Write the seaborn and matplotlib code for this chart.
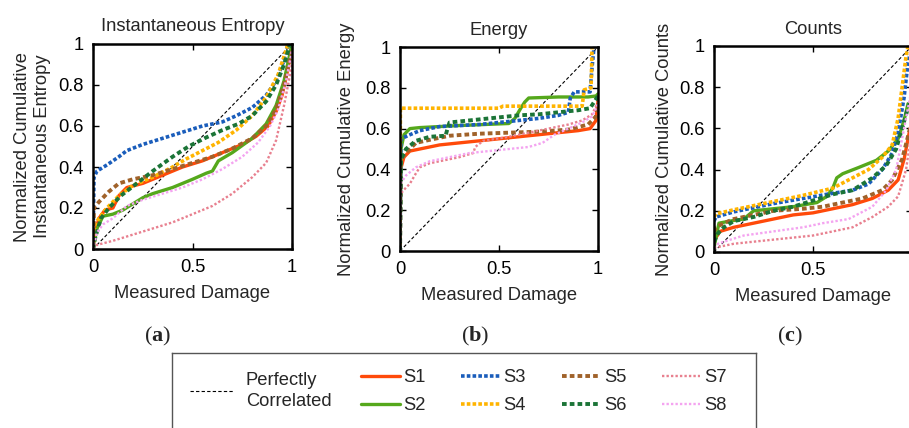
import matplotlib
matplotlib.use("Agg")
import matplotlib.pyplot as plt
import seaborn as sns
import pandas as pd
from matplotlib.lines import Line2D

# ---------------- text / categories ----------------
series_names = ["S1", "S2", "S3", "S4", "S5", "S6", "S7", "S8"]
panel_titles = ["Instantaneous Entropy", "Energy", "Counts"]
panel_ylabels = ["Normalized Cumulative\nInstantaneous Entropy",
                 "Normalized Cumulative Energy",
                 "Normalized Cumulative Counts"]
panel_tags = ["a", "b", "c"]
x_label = "Measured Damage"
x_ticks = [0, 0.5, 1]
x_ticklabels = ["0", "0.5", "1"]
y_ticks = [0, 0.2, 0.4, 0.6, 0.8, 1]
y_ticklabels = ["0", "0.2", "0.4", "0.6", "0.8", "1"]
diag_label = "Perfectly\nCorrelated"
diag_x = [0, 1]
diag_y = [0, 1]

# ---------------- panel (a): instantaneous entropy ----------------
ent_s1_x = [0, 0.01, 0.03, 0.06, 0.1, 0.13, 0.17, 0.25, 0.35, 0.45, 0.55, 0.65, 0.75, 0.82, 0.88, 0.92, 0.95, 0.98, 1.0]
ent_s1_y = [0, 0.08, 0.15, 0.19, 0.2, 0.26, 0.3, 0.32, 0.36, 0.40, 0.43, 0.47, 0.51, 0.55, 0.6, 0.67, 0.75, 0.88, 1.0]
ent_s2_x = [0, 0.02, 0.05, 0.1, 0.15, 0.2, 0.25, 0.3, 0.4, 0.5, 0.57, 0.6, 0.63, 0.7, 0.8, 0.87, 0.92, 0.96, 1.0]
ent_s2_y = [0, 0.1, 0.16, 0.17, 0.19, 0.22, 0.25, 0.27, 0.3, 0.34, 0.37, 0.38, 0.43, 0.47, 0.54, 0.61, 0.7, 0.82, 1.0]
ent_s3_x = [0, 0.005, 0.02, 0.07, 0.13, 0.17, 0.25, 0.35, 0.45, 0.55, 0.65, 0.72, 0.8, 0.87, 0.92, 0.96, 0.98]
ent_s3_y = [0, 0.35, 0.38, 0.41, 0.45, 0.48, 0.51, 0.54, 0.57, 0.6, 0.62, 0.65, 0.69, 0.75, 0.82, 0.92, 1.0]
ent_s4_x = [0, 0.01, 0.03, 0.07, 0.13, 0.2, 0.3, 0.4, 0.47, 0.55, 0.63, 0.72, 0.8, 0.87, 0.93, 0.97, 0.98]
ent_s4_y = [0, 0.12, 0.15, 0.2, 0.26, 0.31, 0.35, 0.4, 0.44, 0.48, 0.52, 0.58, 0.65, 0.74, 0.85, 0.97, 1.0]
ent_s5_x = [0, 0.005, 0.03, 0.08, 0.13, 0.2, 0.3, 0.4, 0.5, 0.6, 0.7, 0.8, 0.87, 0.92, 0.96, 1.0]
ent_s5_y = [0, 0.2, 0.23, 0.28, 0.32, 0.34, 0.36, 0.39, 0.42, 0.45, 0.49, 0.54, 0.6, 0.68, 0.8, 0.97]
ent_s6_x = [0, 0.01, 0.04, 0.08, 0.14, 0.22, 0.3, 0.4, 0.48, 0.56, 0.65, 0.73, 0.8, 0.87, 0.92, 0.96, 0.99]
ent_s6_y = [0, 0.05, 0.15, 0.2, 0.26, 0.32, 0.38, 0.45, 0.5, 0.54, 0.58, 0.61, 0.65, 0.72, 0.8, 0.9, 1.0]
ent_s7_x = [0, 0.02, 0.1, 0.2, 0.3, 0.4, 0.5, 0.6, 0.7, 0.8, 0.87, 0.92, 0.96, 1.0]
ent_s7_y = [0, 0.02, 0.04, 0.07, 0.1, 0.13, 0.17, 0.21, 0.27, 0.35, 0.42, 0.53, 0.7, 0.9]
ent_s8_x = [0, 0.02, 0.05, 0.1, 0.17, 0.25, 0.35, 0.45, 0.55, 0.65, 0.75, 0.83, 0.89, 0.93, 0.97, 1.0]
ent_s8_y = [0, 0.08, 0.12, 0.15, 0.21, 0.24, 0.27, 0.3, 0.34, 0.39, 0.45, 0.52, 0.6, 0.68, 0.82, 0.97]

# ---------------- panel (b): energy ----------------
en_s1_x = [0, 0.003, 0.02, 0.05, 0.1, 0.2, 0.3, 0.4, 0.5, 0.6, 0.7, 0.8, 0.9, 0.96, 0.99, 1.0]
en_s1_y = [0, 0.4, 0.46, 0.49, 0.5, 0.52, 0.53, 0.54, 0.55, 0.56, 0.57, 0.58, 0.59, 0.6, 0.64, 0.74]
en_s2_x = [0, 0.005, 0.02, 0.05, 0.1, 0.2, 0.3, 0.55, 0.58, 0.61, 0.63, 0.65, 0.8, 0.95, 0.99, 1.0]
en_s2_y = [0, 0.5, 0.57, 0.6, 0.605, 0.61, 0.615, 0.625, 0.65, 0.7, 0.73, 0.75, 0.755, 0.755, 0.76, 0.77]
en_s3_x = [0, 0.005, 0.05, 0.1, 0.2, 0.3, 0.4, 0.5, 0.6, 0.7, 0.8, 0.85, 0.86, 0.88, 0.96, 0.97, 0.98]
en_s3_y = [0, 0.55, 0.57, 0.59, 0.61, 0.615, 0.62, 0.63, 0.64, 0.65, 0.665, 0.68, 0.75, 0.78, 0.78, 0.9, 1.0]
en_s4_x = [0, 0.002, 0.5, 0.52, 0.92, 0.93, 0.965, 0.97]
en_s4_y = [0, 0.7, 0.7, 0.71, 0.71, 0.79, 0.8, 1.0]
en_s5_x = [0, 0.005, 0.03, 0.08, 0.15, 0.25, 0.4, 0.55, 0.7, 0.85, 0.95, 0.99, 1.0]
en_s5_y = [0, 0.45, 0.48, 0.53, 0.545, 0.565, 0.575, 0.58, 0.585, 0.595, 0.62, 0.66, 0.72]
en_s6_x = [0, 0.005, 0.03, 0.08, 0.15, 0.23, 0.24, 0.25, 0.35, 0.5, 0.6, 0.7, 0.8, 0.9, 0.96, 0.98, 1.0]
en_s6_y = [0, 0.45, 0.5, 0.54, 0.56, 0.565, 0.6, 0.63, 0.64, 0.655, 0.665, 0.67, 0.68, 0.69, 0.7, 0.73, 0.76]
en_s7_x = [0, 0.003, 0.02, 0.05, 0.08, 0.1, 0.15, 0.2, 0.3, 0.37, 0.38, 0.42, 0.55, 0.65, 0.75, 0.85, 0.92, 0.97, 1.0]
en_s7_y = [0, 0.28, 0.3, 0.33, 0.38, 0.41, 0.43, 0.44, 0.46, 0.48, 0.51, 0.54, 0.56, 0.58, 0.6, 0.62, 0.64, 0.67, 0.73]
en_s8_x = [0, 0.003, 0.03, 0.08, 0.15, 0.25, 0.35, 0.45, 0.55, 0.65, 0.72, 0.78, 0.85, 0.92, 0.97, 1.0]
en_s8_y = [0, 0.33, 0.37, 0.41, 0.44, 0.46, 0.48, 0.49, 0.5, 0.51, 0.53, 0.57, 0.6, 0.63, 0.66, 0.72]

# ---------------- panel (c): counts ----------------
ct_s1_x = [0, 0.01, 0.03, 0.1, 0.2, 0.3, 0.4, 0.5, 0.6, 0.7, 0.8, 0.88, 0.93, 0.96, 0.99, 1.0]
ct_s1_y = [0.05, 0.07, 0.1, 0.12, 0.14, 0.16, 0.18, 0.19, 0.21, 0.23, 0.26, 0.3, 0.35, 0.45, 0.6, 0.7]
ct_s2_x = [0, 0.01, 0.025, 0.08, 0.15, 0.2, 0.3, 0.4, 0.52, 0.57, 0.6, 0.62, 0.65, 0.73, 0.82, 0.88, 0.93, 0.96, 0.98]
ct_s2_y = [0.02, 0.07, 0.14, 0.15, 0.16, 0.2, 0.21, 0.22, 0.24, 0.27, 0.31, 0.36, 0.38, 0.41, 0.445, 0.49, 0.55, 0.64, 0.72]
ct_s3_x = [0, 0.01, 0.1, 0.2, 0.3, 0.45, 0.6, 0.7, 0.78, 0.85, 0.9, 0.93, 0.96, 0.98, 1.0]
ct_s3_y = [0.15, 0.17, 0.195, 0.215, 0.235, 0.26, 0.285, 0.3, 0.33, 0.4, 0.48, 0.58, 0.75, 0.92, 1.0]
ct_s4_x = [0, 0.01, 0.1, 0.2, 0.3, 0.45, 0.6, 0.7, 0.78, 0.85, 0.9, 0.93, 0.95, 0.97, 0.98]
ct_s4_y = [0.17, 0.185, 0.205, 0.225, 0.245, 0.275, 0.31, 0.36, 0.4, 0.46, 0.52, 0.65, 0.8, 0.95, 1.0]
ct_s5_x = [0, 0.01, 0.05, 0.1, 0.2, 0.3, 0.45, 0.55, 0.65, 0.75, 0.85, 0.9, 0.95, 0.99, 1.0]
ct_s5_y = [0.1, 0.12, 0.14, 0.16, 0.18, 0.2, 0.21, 0.22, 0.24, 0.26, 0.3, 0.35, 0.45, 0.6, 0.65]
ct_s6_x = [0, 0.02, 0.05, 0.1, 0.2, 0.3, 0.4, 0.5, 0.6, 0.7, 0.8, 0.87, 0.92, 0.95, 0.98, 1.0]
ct_s6_y = [0.05, 0.09, 0.12, 0.15, 0.17, 0.2, 0.22, 0.25, 0.28, 0.3, 0.36, 0.42, 0.5, 0.6, 0.7, 0.75]
ct_s7_x = [0, 0.05, 0.1, 0.2, 0.3, 0.4, 0.5, 0.6, 0.7, 0.8, 0.88, 0.93, 0.97, 1.0]
ct_s7_y = [0.02, 0.03, 0.04, 0.05, 0.06, 0.07, 0.08, 0.1, 0.12, 0.17, 0.22, 0.27, 0.4, 0.6]
ct_s8_x = [0, 0.02, 0.05, 0.15, 0.3, 0.45, 0.55, 0.68, 0.8, 0.87, 0.92, 0.95, 0.98, 1.0]
ct_s8_y = [0.02, 0.04, 0.05, 0.08, 0.1, 0.12, 0.14, 0.16, 0.22, 0.3, 0.4, 0.55, 0.7, 0.8]

panels = [
    [(ent_s1_x, ent_s1_y), (ent_s2_x, ent_s2_y), (ent_s3_x, ent_s3_y), (ent_s4_x, ent_s4_y),
     (ent_s5_x, ent_s5_y), (ent_s6_x, ent_s6_y), (ent_s7_x, ent_s7_y), (ent_s8_x, ent_s8_y)],
    [(en_s1_x, en_s1_y), (en_s2_x, en_s2_y), (en_s3_x, en_s3_y), (en_s4_x, en_s4_y),
     (en_s5_x, en_s5_y), (en_s6_x, en_s6_y), (en_s7_x, en_s7_y), (en_s8_x, en_s8_y)],
    [(ct_s1_x, ct_s1_y), (ct_s2_x, ct_s2_y), (ct_s3_x, ct_s3_y), (ct_s4_x, ct_s4_y),
     (ct_s5_x, ct_s5_y), (ct_s6_x, ct_s6_y), (ct_s7_x, ct_s7_y), (ct_s8_x, ct_s8_y)],
]

# ---------------- styles ----------------
colors = {"S1": "#FF4A0A", "S2": "#55A81C", "S3": "#1A5DBB", "S4": "#FFB400",
          "S5": "#A0622A", "S6": "#1B7437", "S7": "#E8808F", "S8": "#F4A4F0"}
styles = {"S1": "-", "S2": "-", "S3": (0, (1.0, 0.6)), "S4": (0, (1.0, 0.6)),
          "S5": (0, (1.2, 0.8)), "S6": (0, (1.2, 0.8)), "S7": (0, (1.0, 0.9)), "S8": (0, (1.0, 0.9))}
widths = {"S1": 2.4, "S2": 2.4, "S3": 2.6, "S4": 2.6, "S5": 2.8, "S6": 2.8, "S7": 1.7, "S8": 1.7}

sns.set_theme(style="ticks")
plt.rcParams["font.family"] = ["Liberation Sans", "DejaVu Sans"]
plt.rcParams["mathtext.fontset"] = "custom"
plt.rcParams["mathtext.bf"] = "Liberation Serif:bold"
plt.rcParams["mathtext.rm"] = "Liberation Serif"
plt.rcParams["mathtext.it"] = "Liberation Serif:italic"
FS = 13.2

W, H = 909, 428
fig = plt.figure(figsize=(W / 100, H / 100), dpi=100)
fig.patch.set_facecolor("white")

# (left, top, width, height) in pixels
rects_px = [(93, 44, 199, 205), (400, 47, 198, 204), (714, 46, 198, 206)]
tag_x_px = [158, 475, 790]
tag_y_px = 336

for i, (L, T, Wd, Ht) in enumerate(rects_px):
    ax = fig.add_axes([L / W, 1 - (T + Ht) / H, Wd / W, Ht / H])
    ax.set_facecolor("white")
    sns.lineplot(x=diag_x, y=diag_y, ax=ax, color="black", linewidth=0.8,
                 linestyle=(0, (3, 2)), legend=False, sort=False, estimator=None)
    for name, (xs, ys) in zip(series_names, panels[i]):
        sns.lineplot(x=xs, y=ys, ax=ax, color=colors[name], linewidth=widths[name],
                     linestyle=styles[name], legend=False, sort=False, estimator=None)
    ax.set_xlim(0, 1)
    ax.set_ylim(0, 1)
    ax.set_xticks(x_ticks)
    # the last x tick label of panel (c) lies outside the cropped figure in the reference
    ax.set_xticklabels(x_ticklabels if i < 2 else x_ticklabels[:-1] + [""])
    ax.set_yticks(y_ticks)
    ax.set_yticklabels(y_ticklabels)
    ax.tick_params(direction="in", length=4, width=1, top=True, right=True,
                   labelsize=FS, pad=7, colors="black")
    for sp in ax.spines.values():
        sp.set_visible(True)
        sp.set_linewidth(1.8)
        sp.set_color("black")
    ax.set_title(panel_titles[i], fontsize=FS, pad=9)
    ax.set_xlabel(x_label, fontsize=FS, labelpad=7)
    ax.set_ylabel(panel_ylabels[i], fontsize=FS, labelpad=[5, 7, 4][i],
                  linespacing=1.2)
    fig.text(tag_x_px[i] / W, 1 - tag_y_px / H, "(" + r"$\mathbf{" + panel_tags[i] + "}$" + ")",
             ha="center", va="center", fontsize=16, family="Liberation Serif")

# ---------------- legend box ----------------
lx0, ly0, lx1, ly1 = 172, 353, 756, 432
lax = fig.add_axes([lx0 / W, 1 - ly1 / H, (lx1 - lx0) / W, (ly1 - ly0) / H])
lax.set_xticks([])
lax.set_yticks([])
lax.set_facecolor("white")
for sp in lax.spines.values():
    sp.set_visible(True)
    sp.set_color("#555555")
    sp.set_linewidth(1.0)

pc_handle = Line2D([], [], color="black", linewidth=0.8, linestyle=(0, (3, 2)))
leg1 = lax.legend([pc_handle], [diag_label], loc="center left",
                  bbox_to_anchor=((190 - lx0) / (lx1 - lx0), (ly1 - 391) / (ly1 - ly0)),
                  frameon=False, fontsize=FS, handlelength=2.35, handletextpad=0.7,
                  borderpad=0, borderaxespad=0)
for t in leg1.get_texts():
    t.set_linespacing(1.3)
    t.set_multialignment("left")
lax.add_artist(leg1)

s_handles = [Line2D([], [], color=colors[n], linewidth=widths[n], linestyle=styles[n])
             for n in series_names]
leg2 = lax.legend(s_handles, series_names, loc="center left", ncol=4,
                  bbox_to_anchor=((361 - lx0) / (lx1 - lx0), (ly1 - 391.5) / (ly1 - ly0)),
                  frameon=False, fontsize=FS, handlelength=2.1, handletextpad=0.2,
                  columnspacing=1.95, labelspacing=0.6, borderpad=0, borderaxespad=0)

fig.savefig("out.png", dpi=100, facecolor="white")
